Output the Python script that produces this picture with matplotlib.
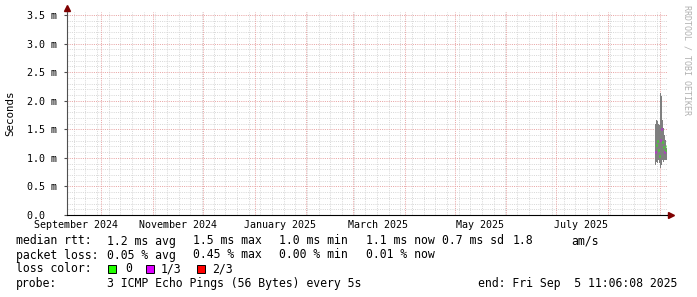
import numpy as np
import pandas as pd
import matplotlib
matplotlib.use('Agg')
import matplotlib.pyplot as plt

# data (values in ms)
times = pd.to_datetime([
    '2025-08-29 06:18', '2025-08-29 20:42', '2025-08-30 11:06', '2025-08-31 01:30',
    '2025-08-31 15:54', '2025-09-01 06:18', '2025-09-01 20:42', '2025-09-02 11:06',
    '2025-09-03 01:30', '2025-09-03 15:54', '2025-09-04 06:18', '2025-09-04 20:42'])
smoke_hi = [1.60, 1.66, 1.64, 1.60, 1.57, 2.13, 2.08, 1.66, 1.52, 1.40, 1.31, 1.17]
smoke_lo = [0.87, 0.93, 0.91, 0.96, 0.91, 0.82, 0.87, 0.96, 0.93, 0.96, 0.96, 0.96]
median = [1.10, 1.23, 1.30, 1.14, 1.03, 1.31, 1.50, 1.28, 1.19, 1.10, 1.14, 1.20]
loss = [1, 0, 0, 0, 0, 1, 1, 0, 0, 1, 0, 0]

loss_colors = ['#22ff00', '#dd00ff', '#ff0000']
loss_labels = ['0', '1/3', '2/3']

ytick_vals = [0.0, 0.5, 1.0, 1.5, 2.0, 2.5, 3.0, 3.5]
ytick_labels = ['0.0  ', '0.5 m', '1.0 m', '1.5 m', '2.0 m', '2.5 m', '3.0 m', '3.5 m']
xtick_labels = ['September 2024', 'November 2024', 'January 2025',
                'March 2025', 'May 2025', 'July 2025']
xtick_dates = ['2024-09-16', '2024-11-16', '2025-01-16',
               '2025-03-16', '2025-05-16', '2025-07-16']

end = pd.Timestamp('2025-09-05 11:06:08')
start = end - pd.Timedelta(days=360)

W, H = 697, 297
mono = 'DejaVu Sans Mono'
fs = 8.3      # legend font
fs_ax = 7.2   # axis font

fig = plt.figure(figsize=(W / 100, H / 100), dpi=100)
fig.patch.set_facecolor('white')
ax = fig.add_axes([67 / W, 1 - 215 / H, 600 / W, 203 / H])
ax.set_facecolor('white')
ymax = 3.5 * 203 / 200
ax.set_xlim(start, end)
ax.set_ylim(0, ymax)

dot = (0, (1, 1.2))
# minor grid
for v in np.arange(0.1, 3.51, 0.1):
    if abs(v / 0.5 - round(v / 0.5)) > 1e-6:
        ax.axhline(v, color='#d8d8d8', lw=0.72, ls=dot, zorder=1)
for d in pd.date_range(start, end, freq='W-SAT'):
    ax.axvline(d, color='#d8d8d8', lw=0.72, ls=dot, zorder=1)
# major grid
for v in ytick_vals[1:]:
    ax.axhline(v, color='#e8a4a4', lw=0.72, ls=dot, zorder=2)
for d in pd.date_range('2024-10-01', end, freq='MS'):
    ax.axvline(d, color='#e8a4a4', lw=0.72, ls=dot, zorder=2)

# smoke
step = pd.Timedelta(hours=14.4)
ax.bar(times, np.array(smoke_hi) - np.array(smoke_lo), bottom=smoke_lo,
       width=step, align='edge', color='#7f7f7f', lw=0, zorder=3)
# median coloured by loss
for t, m, l in zip(times, median, loss):
    ax.hlines(m, t, t + step, colors=loss_colors[l], lw=1.8, zorder=4)

ax.set_yticks(ytick_vals)
ax.set_yticklabels(ytick_labels, fontfamily=mono, fontsize=fs_ax)
ax.set_xticks(pd.to_datetime(xtick_dates))
ax.set_xticklabels(xtick_labels, fontfamily=mono, fontsize=fs_ax)
ax.tick_params(axis='x', length=0, pad=3.5)
ax.tick_params(axis='y', length=2, pad=5, color='#505050')

for s in ['top', 'right']:
    ax.spines[s].set_visible(False)
ax.spines['left'].set_color('#505050')
ax.spines['bottom'].set_color('black')
ax.spines['left'].set_linewidth(0.8)
ax.spines['bottom'].set_linewidth(0.8)

# arrows
ax.plot([0, 0], [1, 1.02], color='#505050', lw=0.8, transform=ax.transAxes, clip_on=False)
ax.plot([0], [1.02], marker='^', ms=4, color='#7f0000', transform=ax.transAxes, clip_on=False)
ax.plot([1, 1.003], [0, 0], color='black', lw=0.8, transform=ax.transAxes, clip_on=False)
ax.plot([1.007], [0], marker='>', ms=4, color='#7f0000', transform=ax.transAxes, clip_on=False)

fig.text(10 / W, 1 - 113 / H, 'Seconds', rotation=90, ha='center', va='center',
         fontfamily=mono, fontsize=7.8)
fig.text(687 / W, 1 - 5 / H, 'RRDTOOL / TOBI OETIKER', rotation=270, ha='center', va='top',
         fontfamily=mono, fontsize=6, color='#b0b0b0')

def put(x, y, s):
    fig.text(x / W, 1 - y / H, s, ha='left', va='center', fontfamily=mono, fontsize=fs)

put(16, 241, 'median rtt:')
put(107, 241, '1.2 ms avg')
put(193, 241, '1.5 ms max')
put(279, 241, '1.0 ms min')
put(366, 241, '1.1 ms now')
put(442, 241, '0.7 ms sd')
put(513, 241, '1.8')
put(571, 241, 'am/s')

put(16, 255, 'packet loss:')
put(107, 255, '0.05 % avg')
put(193, 255, '0.45 % max')
put(279, 255, '0.00 % min')
put(366, 255, '0.01 % now')

put(16, 269, 'loss color:')
box_x = [108, 146, 197]
txt_x = [125, 161, 212]
for bx, tx, c, lab in zip(box_x, txt_x, loss_colors, loss_labels):
    fig.patches.append(plt.Rectangle((bx / W, 1 - 273 / H), 8 / W, 8 / H,
                                     transform=fig.transFigure, facecolor=c,
                                     edgecolor='black', lw=0.7))
    put(tx, 269, lab)

put(16, 283, 'probe:')
put(107, 283, '3 ICMP Echo Pings (56 Bytes) every 5s')
put(478, 283, 'end: Fri Sep  5 11:06:08 2025')

fig.savefig('out.png', dpi=100)
